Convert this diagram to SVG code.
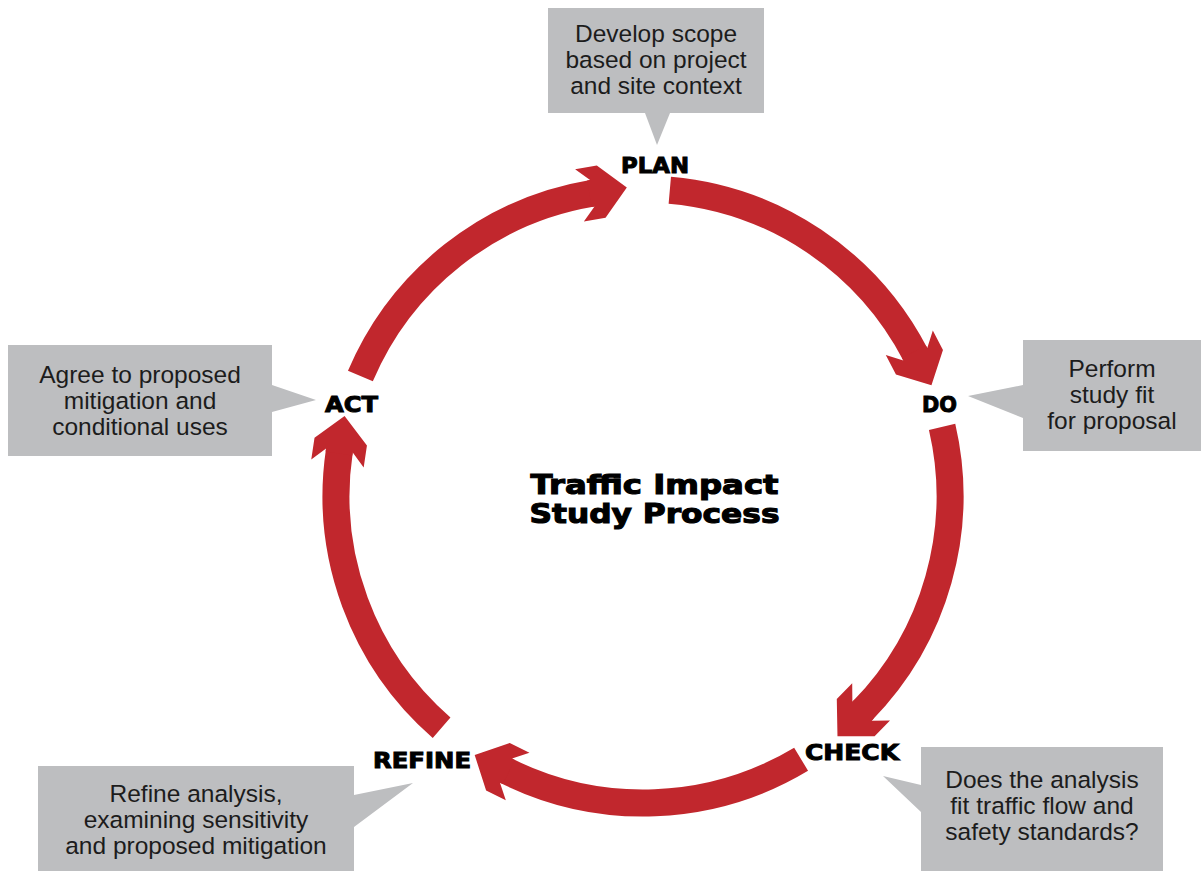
<svg xmlns="http://www.w3.org/2000/svg" width="1201" height="873" viewBox="0 0 1201 873">
<style>
.bg{fill:#ffffff}
.callout{fill:#BDBEC0}
.body{font-family:"Liberation Sans",Arial,sans-serif;font-size:24.5px;fill:#1c1c1c;text-anchor:middle}
.label{font-family:"DejaVu Sans",sans-serif;font-weight:bold;font-size:22px;fill:#000;stroke:#000;stroke-width:1;text-anchor:middle}
.title{font-family:"DejaVu Sans",sans-serif;font-weight:bold;font-size:27px;fill:#000;stroke:#000;stroke-width:1.1;text-anchor:middle}
.shaft{fill:none;stroke:#C1272D;stroke-width:27;stroke-linecap:butt;marker-end:url(#head)}
</style>
<defs>
<marker id="head" markerUnits="userSpaceOnUse" orient="auto" refX="0" refY="0" markerWidth="80" markerHeight="80" overflow="visible">
<path d="M35,0 L9,26.5 L-13,26.5 L0,13.5 L-3,13.5 L-3,-13.5 L0,-13.5 L-13,-26.5 L9,-26.5 Z" fill="#C1272D"/>
</marker>
</defs>
<rect class="bg" x="0" y="0" width="1201" height="873"/>

<g id="connectors">
<path class="shaft" d="M360.4,376.1 A307,307 0 0 1 592.3,193.2"/>
<path class="shaft" d="M669.8,190.2 A307,307 0 0 1 915.3,354.3"/>
<path class="shaft" d="M942.1,426.9 A307,307 0 0 1 862.0,711.2"/>
<path class="shaft" d="M801.1,759.2 A307,307 0 0 1 506.0,770.7"/>
<path class="shaft" d="M441.6,727.7 A307,307 0 0 1 339.4,450.6"/>
</g>

<g id="plan">
<path class="callout" d="M548,8 H764 V113 H670 L657,145 L645,113 H548 Z"/>
<text class="body" x="656" y="42">Develop scope</text>
<text class="body" x="656" y="68">based on project</text>
<text class="body" x="656" y="94">and site context</text>
<text class="label" x="655" y="173" textLength="68" lengthAdjust="spacingAndGlyphs">PLAN</text>
</g>

<g id="do">
<path class="callout" d="M1023,340 H1201 V451 H1023 V418 L968,396 L1023,385 Z"/>
<text class="body" x="1112" y="377">Perform</text>
<text class="body" x="1112" y="403">study fit</text>
<text class="body" x="1112" y="429">for proposal</text>
<text class="label" x="939.5" y="412" textLength="35" lengthAdjust="spacingAndGlyphs">DO</text>
</g>

<g id="check">
<path class="callout" d="M921,747 H1163 V871 H921 V812 L883,776 L921,785 Z"/>
<text class="body" x="1042" y="788">Does the analysis</text>
<text class="body" x="1042" y="814">fit traffic flow and</text>
<text class="body" x="1042" y="840">safety standards?</text>
<text class="label" x="852" y="760" textLength="94" lengthAdjust="spacingAndGlyphs">CHECK</text>
</g>

<g id="refine">
<path class="callout" d="M38,766 H354 V795 L413,783 L354,827 V871 H38 Z"/>
<text class="body" x="196" y="802">Refine analysis,</text>
<text class="body" x="196" y="828">examining sensitivity</text>
<text class="body" x="196" y="854">and proposed mitigation</text>
<text class="label" x="422" y="768" textLength="98" lengthAdjust="spacingAndGlyphs">REFINE</text>
</g>

<g id="act">
<path class="callout" d="M8,345 H272 V385 L316,400 L272,412 V456 H8 Z"/>
<text class="body" x="140" y="383">Agree to proposed</text>
<text class="body" x="140" y="409">mitigation and</text>
<text class="body" x="140" y="435">conditional uses</text>
<text class="label" x="351.5" y="412" textLength="53" lengthAdjust="spacingAndGlyphs">ACT</text>
</g>

<g id="title">
<text class="title" x="654.5" y="494" textLength="248" lengthAdjust="spacingAndGlyphs">Traffic Impact</text>
<text class="title" x="654.5" y="523" textLength="250" lengthAdjust="spacingAndGlyphs">Study Process</text>
</g>
</svg>
